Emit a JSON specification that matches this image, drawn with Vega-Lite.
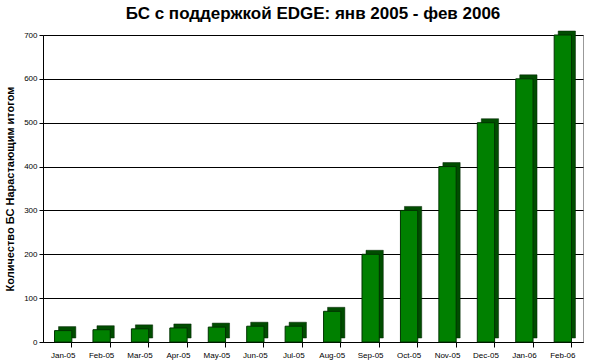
{
  "$schema": "https://vega.github.io/schema/vega-lite/v6.json",
  "autosize": {"type": "fit", "contains": "padding"},
  "width": 595,
  "height": 363,
  "padding": {"left": 4, "right": 12, "top": 4, "bottom": 4},
  "background": "white",
  "title": {
    "text": "БС с поддержкой EDGE: янв 2005 - фев 2006",
    "font": "Liberation Sans",
    "fontSize": 17,
    "fontWeight": "bold",
    "color": "black",
    "offset": 8
  },
  "config": {
    "view": {"stroke": "#999999", "strokeWidth": 1},
    "axis": {"labelFont": "Liberation Sans", "titleFont": "Liberation Sans", "labelColor": "black", "titleColor": "black"}
  },
  "data": {
    "values": [
      {"month": "Jan-05", "count": 26},
      {"month": "Feb-05", "count": 28},
      {"month": "Mar-05", "count": 30},
      {"month": "Apr-05", "count": 32},
      {"month": "May-05", "count": 34},
      {"month": "Jun-05", "count": 36},
      {"month": "Jul-05", "count": 36},
      {"month": "Aug-05", "count": 70},
      {"month": "Sep-05", "count": 200},
      {"month": "Oct-05", "count": 300},
      {"month": "Nov-05", "count": 400},
      {"month": "Dec-05", "count": 500},
      {"month": "Jan-06", "count": 600},
      {"month": "Feb-06", "count": 700}
    ]
  },
  "encoding": {
    "x": {
      "field": "month",
      "type": "ordinal",
      "sort": null,
      "title": null,
      "scale": {"paddingInner": 0.55, "paddingOuter": 0.3},
      "axis": {"labelAngle": 0, "labelFontSize": 8, "domainColor": "black", "tickColor": "black", "tickSize": 5, "labelPadding": 4, "grid": false, "bandPosition": 1}
    },
    "y": {
      "field": "count",
      "type": "quantitative",
      "title": "Количество БС Нарастающим итогом",
      "scale": {"domain": [0, 700], "nice": false},
      "axis": {"values": [0, 100, 200, 300, 400, 500, 600, 700], "labelFontSize": 8, "titleFontSize": 11, "titleFontWeight": "bold", "domainColor": "black", "tickColor": "black", "tickSize": 4, "gridColor": "black", "gridOpacity": 1, "gridWidth": 1, "titlePadding": 8}
    }
  },
  "layer": [
    {
      "mark": {"type": "bar", "color": "#004d00", "xOffset": 4, "yOffset": -4, "stroke": "#002200", "strokeWidth": 0.5}
    },
    {
      "mark": {"type": "bar", "color": "#008000", "stroke": "#003300", "strokeWidth": 1}
    }
  ]
}
